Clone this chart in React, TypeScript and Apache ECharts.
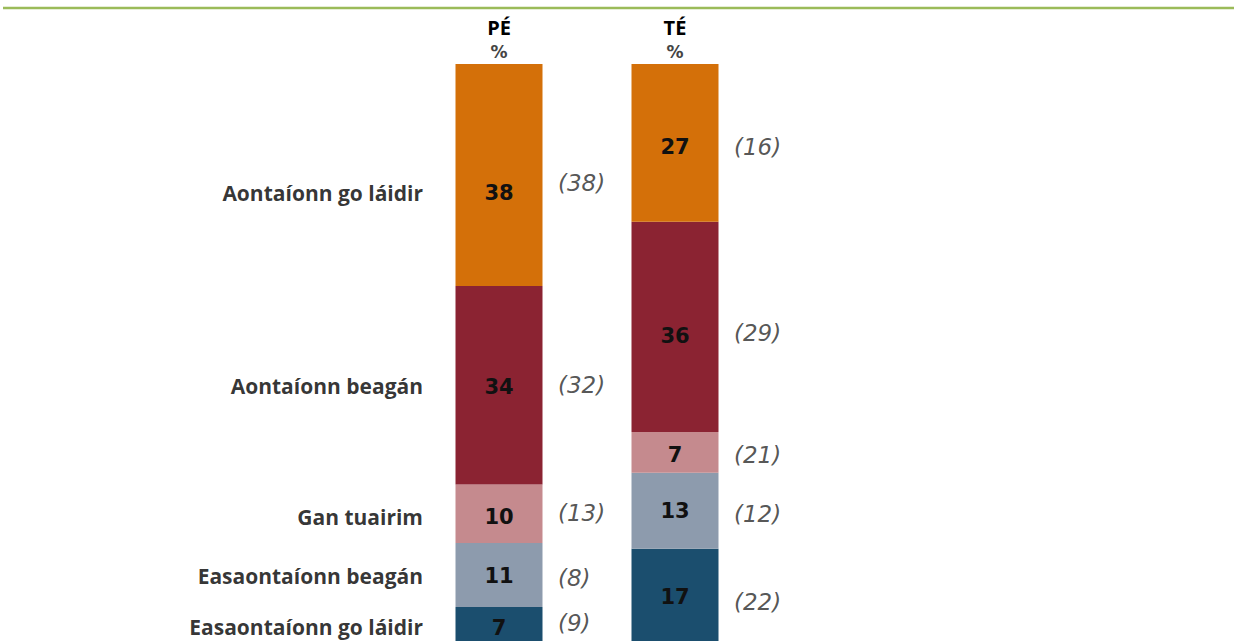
import React, { useEffect, useRef } from "react";
import * as echarts from "echarts";

const categories = ["PÉ", "TÉ"];
const segmentNames = [
  "Aontaíonn go láidir",
  "Aontaíonn beagán",
  "Gan tuairim",
  "Easaontaíonn beagán",
  "Easaontaíonn go láidir",
];
// current values (PÉ, TÉ), top segment first
const strongAgree = [38, 27];
const slightAgree = [34, 36];
const noOpinion = [10, 7];
const slightDisagree = [11, 13];
const strongDisagree = [7, 17];
// previous values shown in brackets
const prevStrongAgree = [38, 16];
const prevSlightAgree = [32, 29];
const prevNoOpinion = [13, 21];
const prevSlightDisagree = [8, 12];
const prevStrongDisagree = [9, 22];

const segColors = ["#D47009", "#8B2332", "#C58A8E", "#8D9BAD", "#1B4E6E"];
// vertical nudges (px) for labels, per segment, per category
const numberNudge = [[18, 4], [2, 9], [3, 3], [1, 0], [0, -1]];
const bracketNudge = [[8, 4], [0, 6], [-1, 3], [3, 3], [-5, 4]];
const leftLabelNudge = [18, 1, 3, 1, -1];

export default function App() {
  const ref = useRef<HTMLDivElement>(null);
  useEffect(() => {
    if (!ref.current) return;
    const chart = echarts.init(ref.current, undefined, { renderer: "svg" });
    const current = [strongAgree, slightAgree, noOpinion, slightDisagree, strongDisagree];
    const previous = [prevStrongAgree, prevSlightAgree, prevNoOpinion, prevSlightDisagree, prevStrongDisagree];

    // midpoints in value units, computed from stacked data (bottom segment = last)
    const mids: number[][] = current.map(() => [0, 0]);
    for (let c = 0; c < categories.length; c++) {
      let base = 0;
      for (let s = current.length - 1; s >= 0; s--) {
        mids[s][c] = base + current[s][c] / 2;
        base += current[s][c];
      }
    }

    const barSeries: any[] = [];
    for (let s = current.length - 1; s >= 0; s--) {
      barSeries.push({
        type: "bar",
        name: segmentNames[s],
        stack: "total",
        barWidth: 87,
        itemStyle: { color: segColors[s] },
        label: {
          show: true,
          position: "inside",
          fontFamily: "DejaVu Sans",
          fontWeight: "bold",
          fontSize: 21,
          color: "#111",
        },
        data: current[s].map((v, c) => ({
          value: v,
          label: { offset: [0, numberNudge[s][c]] },
        })),
      });
    }

    const bracketData: any[] = [];
    const leftData: any[] = [];
    for (let s = 0; s < current.length; s++) {
      for (let c = 0; c < categories.length; c++) {
        bracketData.push({
          value: [c, mids[s][c]],
          label: { formatter: "(" + previous[s][c] + ")", offset: [59, bracketNudge[s][c]] },
        });
      }
      leftData.push({
        value: [0, mids[s][0]],
        label: { formatter: segmentNames[s], offset: [-76, leftLabelNudge[s]] },
      });
    }

    chart.setOption({
      animation: false,
      grid: { left: 411, width: 352, top: 64, bottom: 12 },
      xAxis: {
        type: "category",
        data: categories,
        position: "top",
        axisLine: { show: false },
        axisTick: { show: false },
        axisLabel: {
          margin: 1,
          formatter: (v: string) => "{t|" + v + "}\n{p|%}",
          rich: {
            t: { fontFamily: "Open Sans", fontWeight: "bold", fontSize: 20, color: "#000", lineHeight: 28 },
            p: { fontFamily: "DejaVu Sans", fontWeight: "bold", fontSize: 17, color: "#444", lineHeight: 22 },
          },
        },
      },
      yAxis: { type: "value", min: 0, max: 100, show: false },
      series: [
        ...barSeries,
        {
          type: "scatter",
          symbolSize: 0,
          silent: true,
          itemStyle: { color: "transparent" },
          label: {
            show: true,
            position: "inside",
            align: "left",
            verticalAlign: "middle",
            fontFamily: "DejaVu Sans",
            fontStyle: "italic",
            fontSize: 23,
            color: "#2a2a2a",
          },
          data: bracketData,
          z: 5,
        },
        {
          type: "scatter",
          symbolSize: 0,
          silent: true,
          itemStyle: { color: "transparent" },
          label: {
            show: true,
            position: "inside",
            align: "right",
            verticalAlign: "middle",
            fontFamily: "Open Sans",
            fontWeight: "bold",
            fontSize: 21,
            color: "#000",
          },
          data: leftData,
          z: 5,
        },
      ],
      graphic: [
        {
          type: "line",
          shape: { x1: 3, y1: 8, x2: 1234, y2: 8 },
          style: { stroke: "#9BBB59", lineWidth: 2.5 },
        },
      ],
    });
    return () => chart.dispose();
  }, []);
  return (
    <div style={{ position: "fixed", left: 0, top: 0, width: 1234, height: 641, overflow: "hidden", background: "#fff" }}>
      <div ref={ref} style={{ width: 1234, height: 660 }} />
    </div>
  );
}
